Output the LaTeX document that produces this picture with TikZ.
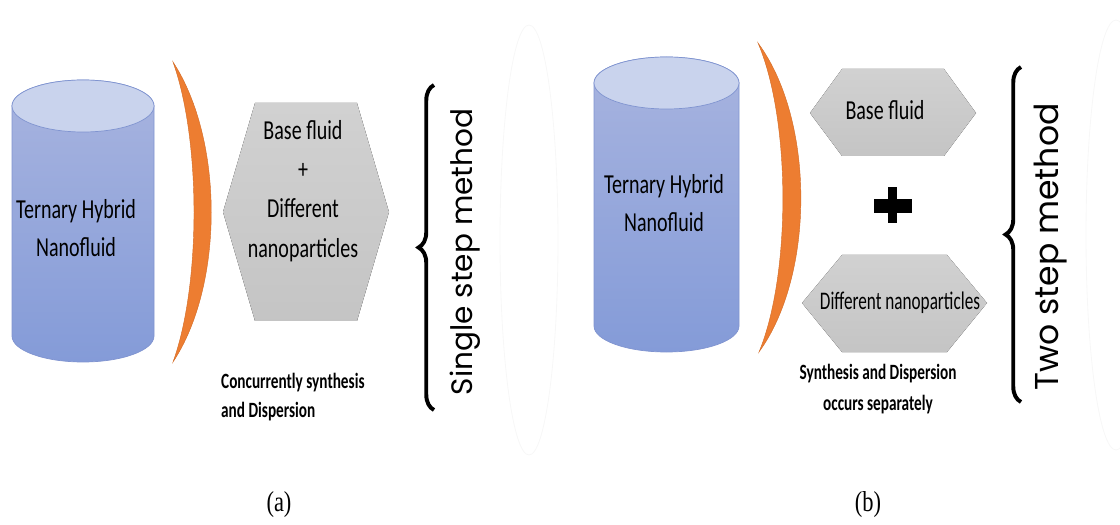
\documentclass[tikz,border=0pt]{standalone}
\usepackage{fontspec}
\usetikzlibrary{decorations.pathreplacing}
\newfontfamily\calib{Carlito}
\newfontfamily\gothic{Poppins}
\newfontfamily\timesf{Liberation Serif}
\definecolor{cyltop}{RGB}{168,180,223}
\definecolor{cylbot}{RGB}{132,155,216}
\definecolor{cylcapc}{RGB}{201,211,237}
\definecolor{cylline}{RGB}{128,148,208}
\definecolor{orangec}{RGB}{237,125,49}
\definecolor{orangel}{RGB}{210,108,40}

\begin{document}
\begin{tikzpicture}[x=0.025cm, y=0.025cm,
    cylbody/.style={top color=cyltop, bottom color=cylbot, draw=cylline, line width=0.5pt},
    cyltopface/.style={fill=cylcapc, draw=cylline, line width=0.5pt},
    lune/.style={fill=orangec, draw=orangel, line width=0.3pt},
    hexa/.style={top color=black!18, bottom color=black!23, draw=none},
    txt/.style={font=\calib\fontsize{19.5}{27.5}\selectfont, xscale=0.73, align=center, inner sep=0pt},
    boldtxt/.style={font=\calib\bfseries\fontsize{15.5}{21}\selectfont, xscale=0.7, inner sep=0pt},
    method/.style={font=\gothic\fontsize{21}{24}\selectfont, rotate=90, inner sep=0pt},
    curly/.style={decorate, decoration={brace, amplitude=11pt}, line width=2.8pt},
    faint/.style={draw=black!3, line width=0.6pt},
    capt/.style={font=\timesf\fontsize{20.5}{24}\selectfont, xscale=0.78, inner sep=0pt}]
  \useasboundingbox (0,0) rectangle (1120,-525);

  % panneau (a)
  \draw[cylbody] (12,-106) -- (12,-336) arc (180:360:71 and 26) -- (154,-106) arc (0:180:71 and 26) -- cycle;
  \draw[cyltopface] (83,-106) ellipse (71 and 26);
  \node[txt] (thnfA) at (76,-228) {Ternary Hybrid\\Nanofluid};
  \draw[lune] (173,-62) .. controls (224,-140) and (224,-285) .. (173,-362)
              .. controls (201,-285) and (201,-140) .. (173,-62) -- cycle;
  \fill[hexa] (255,-103) -- (357,-103) -- (389,-212) -- (357,-321) -- (255,-321) -- (223,-212) -- cycle;
  \node[txt, font=\calib\fontsize{19.5}{28}\selectfont] (mixA) at (303,-191) {Base fluid\\+\\Different\\nanoparticles};
  \node[boldtxt, anchor=west, align=left, font=\calib\bfseries\fontsize{15.5}{20.5}\selectfont] (procA) at (221,-397) {Concurrently synthesis\\and Dispersion};
  \draw[curly] (434,-410) -- (434,-85);
  \node[method] (single) at (465,-252) {Single step method};
  \draw[faint] (529,-240) ellipse (29 and 215);
  \node[capt] (capA) at (279,-505) {(a)};

  % panneau (b)
  \draw[cylbody] (594,-83) -- (594,-326) arc (180:360:72.5 and 26) -- (739,-83) arc (0:180:72.5 and 26) -- cycle;
  \draw[cyltopface] (666.5,-83) ellipse (72.5 and 26);
  \node[txt] (thnfB) at (664,-203) {Ternary Hybrid\\Nanofluid};
  \draw[lune] (758,-43) .. controls (815,-120) and (815,-275) .. (759,-352)
              .. controls (791,-275) and (791,-120) .. (758,-43) -- cycle;
  \fill[hexa] (842,-69) -- (944,-69) -- (976,-113) -- (944,-156) -- (842,-156) -- (810,-113) -- cycle;
  \node[txt] (baseB) at (885,-110) {Base fluid};
  \fill (874,-199) rectangle (912,-213);
  \fill (888,-187) rectangle (897,-223);
  \fill[hexa] (842,-255) -- (947,-255) -- (987,-303) -- (947,-352) -- (842,-352) -- (802,-303) -- cycle;
  \node[txt, font=\calib\fontsize{18}{22}\selectfont, xscale=0.93] (nanoB) at (900,-303) {Different nanoparticles};
  \node[boldtxt, align=center, font=\calib\bfseries\fontsize{15.5}{22.5}\selectfont] (procB) at (878,-389) {Synthesis and Dispersion\\occurs separately};
  \draw[curly] (1021,-402) -- (1021,-67);
  \node[method, font=\gothic\fontsize{23.5}{26}\selectfont] (two) at (1051,-247) {Two step method};
  \draw[faint] (1116,-235) ellipse (30 and 215);
  \node[capt] (capB) at (868,-505) {(b)};
\end{tikzpicture}
\end{document}
